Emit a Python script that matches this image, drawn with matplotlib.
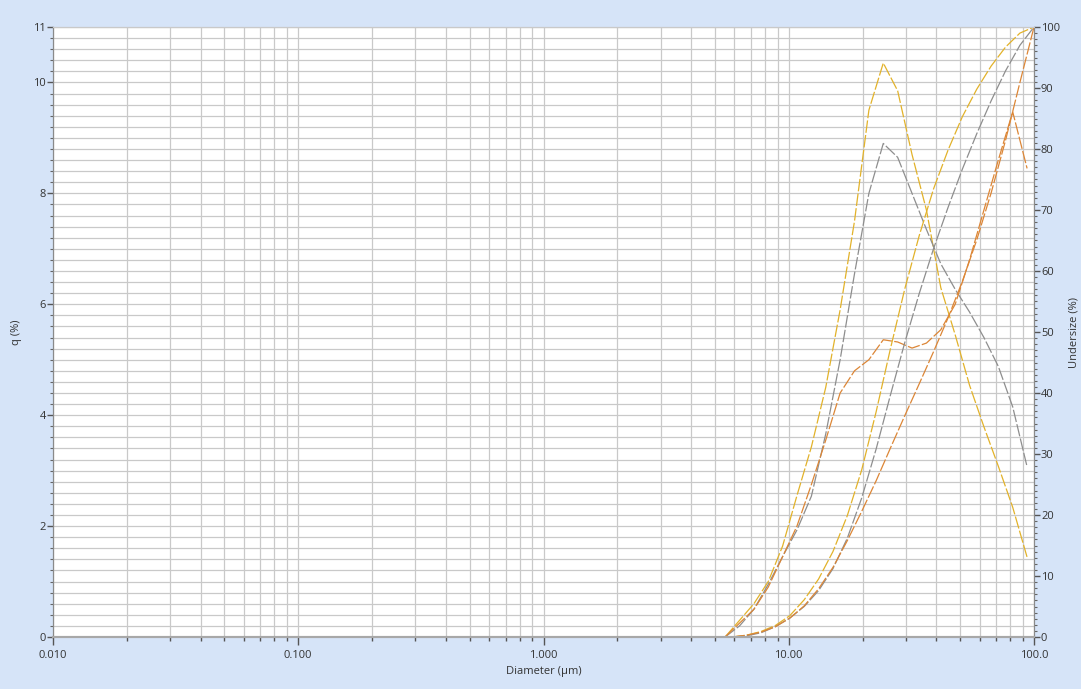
import numpy as np
import matplotlib
matplotlib.use("Agg")
import matplotlib.pyplot as plt
from matplotlib.ticker import FixedLocator, FixedFormatter, MultipleLocator, NullFormatter

plt.rcParams['font.family'] = ['Open Sans', 'DejaVu Sans']

# channel diameters (um): q curves at channel centres, undersize at upper edges
diam_q = [5.50, 6.30, 7.21, 8.25, 9.44, 10.80, 12.37, 14.15, 16.20, 18.54, 21.22,
          24.29, 27.80, 31.82, 36.42, 41.68, 47.71, 54.60, 62.50, 71.53, 81.88, 93.71]
diam_cum = [5.88, 6.74, 7.71, 8.83, 10.10, 11.56, 13.23, 15.14, 17.33, 19.84, 22.71,
            25.99, 29.74, 34.04, 38.97, 44.60, 51.04, 58.42, 66.87, 76.53, 87.60, 100.0]

# frequency q (%)
q_yellow = [0, 0.30, 0.60, 1.00, 1.64, 2.55, 3.43, 4.50, 5.90, 7.50, 9.50,
            10.35, 9.85, 8.70, 7.70, 6.30, 5.45, 4.54, 3.79, 3.08, 2.34, 1.44]
q_gray = [0, 0.20, 0.50, 0.95, 1.45, 1.93, 2.54, 3.66, 5.00, 6.55, 8.00,
          8.90, 8.65, 8.00, 7.35, 6.73, 6.27, 5.86, 5.40, 4.88, 4.15, 3.07]
q_orange = [0, 0.25, 0.50, 0.90, 1.45, 2.00, 2.75, 3.55, 4.40, 4.80, 5.00,
            5.36, 5.32, 5.21, 5.30, 5.54, 6.00, 6.80, 7.70, 8.60, 9.47, 8.45]

# undersize (%)
u_yellow = [0, 0.3, 0.9, 1.9, 3.5, 6.1, 9.5, 14.0, 19.9, 27.4, 36.9,
            47.3, 57.1, 65.8, 73.5, 79.8, 85.3, 89.8, 93.6, 96.7, 99.0, 100]
u_gray = [0, 0.2, 0.7, 1.7, 3.1, 5.0, 7.6, 11.2, 16.2, 22.8, 30.8,
          39.7, 48.3, 56.3, 63.7, 70.4, 76.7, 82.5, 87.9, 92.8, 97.0, 100]
u_orange = [0, 0.3, 0.8, 1.7, 3.1, 5.1, 7.9, 11.4, 15.8, 20.6, 25.6,
            31.0, 36.3, 41.5, 46.8, 52.3, 58.3, 65.1, 72.8, 81.4, 90.9, 100]

x_ticks = [0.01, 0.1, 1, 10, 100]
x_labels = ['0.010', '0.100', '1.000', '10.00', '100.0']
q_ticks = [0, 2, 4, 6, 8, 10, 11]
u_ticks = [0, 10, 20, 30, 40, 50, 60, 70, 80, 90, 100]

c_yellow = '#E2B22A'
c_gray = '#8E8E8E'
c_orange = '#DC8636'
bg = '#D6E4F8'
grid_c = '#C9C9C9'
txt = '#333333'
dash = (10, 1.8)

fig = plt.figure(figsize=(10.81, 6.89), dpi=100, facecolor=bg)
ax = fig.add_axes([53/1081, 52/689, 981/1081, 610/689])
ax.set_facecolor('white')
ax.set_xscale('log')
ax.set_xlim(0.01, 100)
ax.set_ylim(0, 11)

# grid: every 0.2 on the left scale, log decades with minors
ax.grid(True, which='both', axis='both', color=grid_c, lw=0.9, zorder=0)
ax.set_axisbelow(True)

ax.plot(diam_q, q_yellow, color=c_yellow, lw=0.9, dashes=dash)
ax.plot(diam_q, q_gray, color=c_gray, lw=0.9, dashes=dash)
ax.plot(diam_q, q_orange, color=c_orange, lw=0.9, dashes=dash)

ax2 = ax.twinx()
ax2.set_ylim(0, 100)
ax2.plot(diam_cum, u_yellow, color=c_yellow, lw=0.9, dashes=dash)
ax2.plot(diam_cum, u_gray, color=c_gray, lw=0.9, dashes=dash)
ax2.plot(diam_cum, u_orange, color=c_orange, lw=0.9, dashes=dash)

ax.xaxis.set_major_locator(FixedLocator(x_ticks))
ax.xaxis.set_major_formatter(FixedFormatter(x_labels))
ax.xaxis.set_minor_formatter(NullFormatter())
ax.yaxis.set_major_locator(FixedLocator(q_ticks))
ax.yaxis.set_minor_locator(MultipleLocator(0.2))
ax2.yaxis.set_major_locator(FixedLocator(u_ticks))
ax2.yaxis.set_minor_locator(MultipleLocator(1))

ax.tick_params(axis='x', which='major', length=6, width=1, color='#555555',
               labelsize=8, labelcolor=txt, pad=3)
ax.tick_params(axis='x', which='minor', length=3, width=1, color='#555555')
ax.tick_params(axis='y', which='major', length=4, width=1, color='#555555',
               labelsize=8, labelcolor=txt, pad=1)
ax.tick_params(axis='y', which='minor', length=2, width=0.8, color='#666666')
ax2.tick_params(axis='y', which='major', length=4, width=1, color='#555555',
                labelsize=8, labelcolor=txt, pad=1)
ax2.tick_params(axis='y', which='minor', length=2, width=0.8, color='#666666')

for a in (ax, ax2):
    a.spines['top'].set_color(grid_c)
    a.spines['bottom'].set_color('#A8A8A8')
    a.spines['bottom'].set_linewidth(1.5)
    a.spines['left'].set_color('#8A8A8A')
    a.spines['right'].set_color('#8A8A8A')

ax.set_xlabel('Diameter (\u00b5m)', fontsize=8, color=txt, labelpad=4)
ax.set_ylabel('q (%)', fontsize=8, color=txt, labelpad=8)
ax2.set_ylabel('Undersize (%)', fontsize=8, color=txt, labelpad=6, rotation=90)

fig.savefig('out.png', dpi=100, facecolor=bg)
